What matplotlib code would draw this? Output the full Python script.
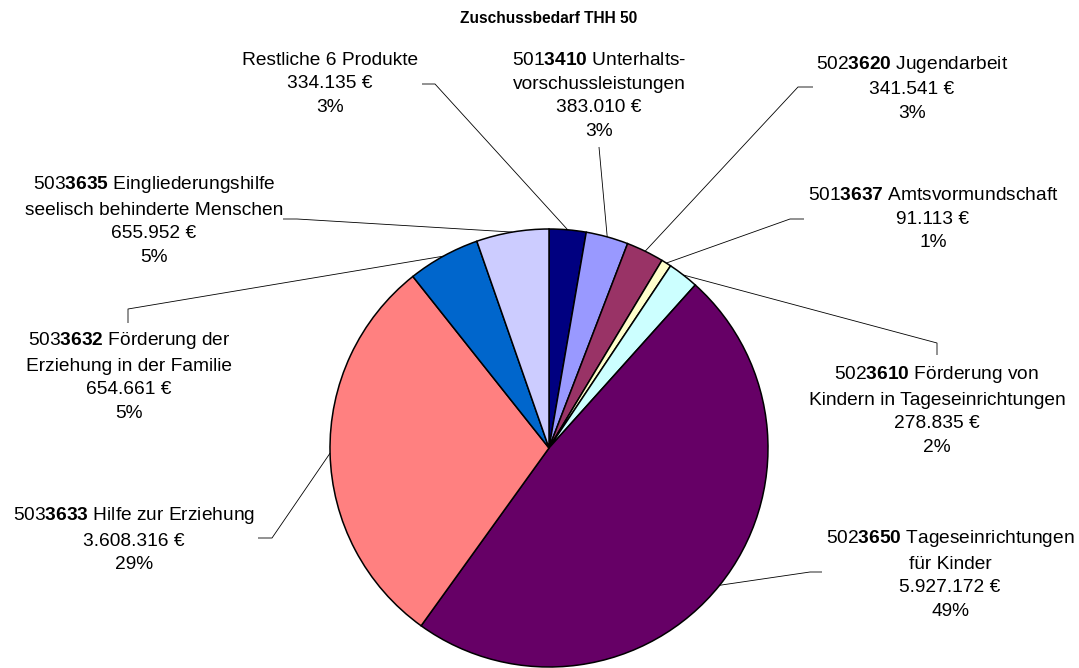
import matplotlib
matplotlib.use("Agg")
import matplotlib.pyplot as plt
import numpy as np

plt.rcParams["font.family"] = ["Liberation Sans", "DejaVu Sans"]
plt.rcParams["mathtext.fontset"] = "custom"
plt.rcParams["mathtext.rm"] = "Liberation Sans"
plt.rcParams["mathtext.bf"] = "Liberation Sans:bold"

W, H = 1079, 668

TITLE = "Zuschussbedarf THH 50"

# slices, clockwise from 12 o'clock
PREFIX = ["", "501", "502", "501", "502", "502", "503", "503", "503"]
CODE = ["", "3410", "3620", "3637", "3610", "3650", "3633", "3632", "3635"]
NAMES = [
    "Restliche 6 Produkte",
    "Unterhalts-\nvorschussleistungen",
    "Jugendarbeit",
    "Amtsvormundschaft",
    "Förderung von\nKindern in Tageseinrichtungen",
    "Tageseinrichtungen\nfür Kinder",
    "Hilfe zur Erziehung",
    "Förderung der\nErziehung in der Familie",
    "Eingliederungshilfe\nseelisch behinderte Menschen",
]
VALUES = [334135, 383010, 341541, 91113, 278835, 5927172, 3608316, 654661, 655952]
PCT_LABELS = ["3%", "3%", "3%", "1%", "2%", "49%", "29%", "5%", "5%"]
COLORS = ["#000080", "#9999FF", "#993366", "#FFFFCC", "#CCFFFF",
          "#660066", "#FF8080", "#0066CC", "#CCCCFF"]

# label block centres and leader line bends (pixel coords, y from top)
LABEL_POS = [(330, 84), (599, 96), (912, 88), (933, 219), (937, 410),
             (950, 574), (134, 539), (129, 376), (154, 220)]
LEADERS = [
    [(422, 84), (435, 84)],
    [(599, 147)],
    [(813, 87), (798, 87)],
    [(804, 219), (790, 219)],
    [(937, 355), (937, 343)],
    [(822, 572), (810, 572)],
    [(258, 538), (272, 538)],
    [(128, 323), (128, 309)],
    [(283, 219), (297, 219)],
]

CENTER = (549, 448)
RADIUS = 219


def euro(v):
    return f"{v:,}".replace(",", ".") + " €"


def label_text(i):
    first, *rest = NAMES[i].split("\n")
    if CODE[i]:
        head = rf"$\mathrm{{{PREFIX[i]}}}\mathbf{{{CODE[i]}}}$ " + first
    else:
        head = first
    lines = [head] + rest + [euro(VALUES[i]), PCT_LABELS[i]]
    return "\n".join(lines)


fig = plt.figure(figsize=(W / 100, H / 100), dpi=100)
ax = fig.add_axes([0, 0, 1, 1])

wedges, _ = ax.pie(
    VALUES, colors=COLORS, startangle=90, counterclock=False,
    center=(CENTER[0], H - CENTER[1]), radius=RADIUS,
    wedgeprops=dict(edgecolor="black", linewidth=1.1),
)
ax.set_xlim(0, W)
ax.set_ylim(0, H)
ax.set_aspect("equal")
ax.axis("off")

for i, w in enumerate(wedges):
    mid = np.deg2rad((w.theta1 + w.theta2) / 2)
    ax_x = CENTER[0] + RADIUS * np.cos(mid)
    ax_y = (H - CENTER[1]) + RADIUS * np.sin(mid)
    pts = [(x, H - y) for x, y in LEADERS[i]] + [(ax_x, ax_y)]
    xs, ys = zip(*pts)
    ax.plot(xs, ys, color="black", linewidth=0.6, solid_capstyle="butt")

    lx, ly = LABEL_POS[i]
    ax.text(lx, H - ly, label_text(i), ha="center", va="center",
            multialignment="center", fontsize=13.8, linespacing=1.52,
            color="black")

ax.text(549, H - 23, TITLE, ha="center", va="baseline",
        fontsize=11.2, fontweight="bold")

fig.savefig("out.png", dpi=100)
